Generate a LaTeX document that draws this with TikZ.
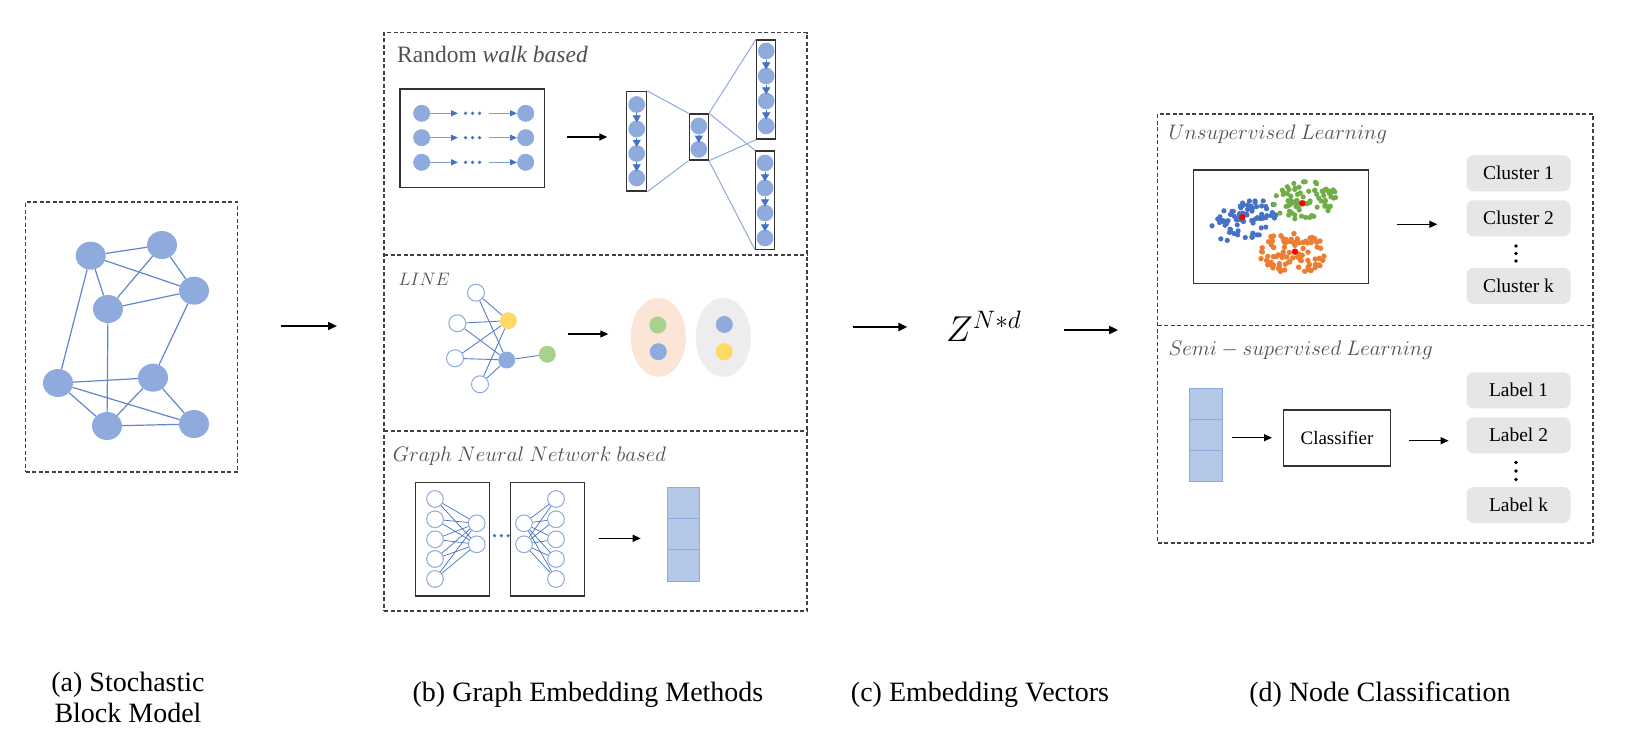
\RequirePackage{fix-cm}
\documentclass[tikz,border=0pt]{standalone}
\usepackage{fontspec}
\setmainfont{Liberation Serif}
\usetikzlibrary{shapes.geometric,arrows.meta,calc}
\definecolor{nblue}{HTML}{8FAADC}
\definecolor{dblue}{HTML}{4472C4}
\definecolor{vecfill}{HTML}{B4C7E7}
\definecolor{peach}{HTML}{FBE5D6}
\definecolor{lgray}{HTML}{EDEDED}
\definecolor{yel}{HTML}{FFD966}
\definecolor{grn}{HTML}{A9D18E}
\definecolor{boxgray}{HTML}{E6E6E6}
\definecolor{sblue}{HTML}{4472C4}
\definecolor{sgreen}{HTML}{70AD47}
\definecolor{sorange}{HTML}{ED7D31}
\definecolor{labgray}{HTML}{505050}
\begin{document}
\begin{tikzpicture}[x=1pt,y=-1pt,
  dbox/.style={draw=black!75, line width=1.1pt, dash pattern=on 4pt off 2.5pt},
  sbm/.style={ellipse, fill=nblue, inner sep=0pt, minimum width=30pt, minimum height=28pt},
  sbmedge/.style={draw=dblue!85, line width=1.2pt},
  fnode/.style={circle, fill=nblue, inner sep=0pt, minimum size=17pt},
  hnode/.style={circle, draw=nblue, fill=white, line width=1pt, inner sep=0pt, minimum size=17pt},
  blkbox/.style={draw=black!80, line width=1.4pt, inner sep=0pt},
  arr/.style={draw=black, line width=1.3pt, -{Triangle[length=8pt,width=7pt]}},
  bigarr/.style={draw=black, line width=2.4pt, -{Triangle[length=9pt,width=8pt]}},
  barr/.style={draw=nblue!80!dblue, line width=1.2pt, -{Triangle[length=7pt,width=6pt,color=dblue]}},
  tri/.style={draw=dblue, line width=0.6pt, shorten >=-2pt, -{Triangle[length=7pt,width=8pt]}},
  fan/.style={draw=nblue, line width=1pt},
  ledge/.style={draw=dblue!90, line width=0.9pt},
  gedge/.style={draw=dblue, line width=0.7pt},
  glabel/.style={text=labgray, font=\fontsize{21}{25}\selectfont, inner sep=0pt, anchor=base west},
  gbox/.style={rounded corners=7pt, fill=boxgray, minimum width=104pt, minimum height=36pt, font=\fontsize{19.5}{23}\selectfont, inner sep=0pt},
  vcell/.style={draw=nblue, fill=vecfill, line width=1pt, minimum width=32pt, minimum height=31pt, inner sep=0pt},
  captxt/.style={font=\fontsize{28}{31}\selectfont, align=center, inner sep=0pt},
  bdot/.style={circle, fill=dblue, inner sep=0pt, minimum size=3.6pt},
  kdot/.style={circle, fill=black, inner sep=0pt, minimum size=3.6pt}
]
\useasboundingbox[fill=white] (0,0) rectangle (1628,738);

% ---------------- panel (a)
\node[dbox, minimum width=212pt, minimum height=270pt] (pa) at (131.7,337) {};
\node[sbm] (n1) at (90.7,255.7) {};
\node[sbm] (n2) at (162,245) {};
\node[sbm] (n3) at (194,290.7) {};
\node[sbm] (n4) at (108,309) {};
\node[sbm] (n5) at (58,383) {};
\node[sbm] (n6) at (153,377.7) {};
\node[sbm] (n7) at (107,426) {};
\node[sbm] (n8) at (194,424) {};
\foreach \a/\b in {n1/n2,n1/n3,n1/n4,n1/n5,n2/n4,n2/n3,n4/n3,n4/n7,n3/n6,n5/n6,n5/n7,n5/n8,n6/n7,n6/n8,n7/n8}
  \draw[sbmedge] (\a) -- (\b);

\coordinate (ab1) at (281,326);
\coordinate (ab2) at (337,326);
\draw[bigarr] (ab1) -- (ab2);

% ---------------- panel (b)
\node[dbox, minimum width=423pt, minimum height=578.3pt] (pb) at (595.5,321.85) {};
\draw[dbox] (384,255) -- (807,255);
\draw[dbox] (384,431) -- (807,431);

% random walk
\node[glabel, font=\fontsize{23.5}{27}\selectfont] (rwt) at (397,62.3) {Random \textit{walk based}};
\node[blkbox, minimum width=144.3pt, minimum height=98.7pt] (rwbox) at (472.2,138.4) {};
\foreach \r/\y in {1/113.3,2/137.7,3/162.3}{
  \node[fnode] (rl\r) at (421.7,\y) {};
  \node[fnode] (rr\r) at (525.7,\y) {};
  \coordinate (ra\r) at (458,\y);
  \coordinate (rb\r) at (488.5,\y);
  \draw[barr] (rl\r) -- (ra\r);
  \draw[barr] (rb\r) -- (rr\r);
  \node[bdot] at (465.5,\y) {};
  \node[bdot] at (472.5,\y) {};
  \node[bdot] at (479.5,\y) {};
}
% columns
\node[blkbox, minimum width=20pt, minimum height=99.3pt] (c1) at (636.7,141.3) {};
\node[blkbox, minimum width=19pt, minimum height=46pt] (c2) at (698.8,137) {};
\node[blkbox, minimum width=19pt, minimum height=99pt] (c3) at (766.2,89.5) {};
\node[blkbox, minimum width=18.6pt, minimum height=98.3pt] (c4) at (765,200.2) {};
\foreach \i/\y in {1/104.5,2/129,3/153.5,4/178} \node[fnode, minimum size=16.7pt] (c1n\i) at (636.7,\y) {};
\foreach \i/\y in {1/126,2/149.3} \node[fnode, minimum size=16.7pt] (c2n\i) at (698.8,\y) {};
\foreach \i/\y in {1/51,2/76,3/101,4/126} \node[fnode, minimum size=16.7pt] (c3n\i) at (766.2,\y) {};
\foreach \i/\y in {1/163,2/188,3/213,4/238} \node[fnode, minimum size=16.7pt] (c4n\i) at (765,\y) {};
\foreach \c in {c1,c3,c4}{
  \draw[tri] (\c n1) -- (\c n2);
  \draw[tri] (\c n2) -- (\c n3);
  \draw[tri] (\c n3) -- (\c n4);
}
\draw[tri] (c2n1) -- (c2n2);
\draw[fan] (c1.north east) -- (c2.north west);
\draw[fan] (c1.south east) -- (c2.south west);
\draw[fan] (c2.north east) -- (c3.north west);
\draw[fan] (c2.north east) -- (c4.north west);
\draw[fan] (c2.south east) -- (c3.south west);
\draw[fan] (c2.south east) -- (c4.south west);
\coordinate (rwa1) at (566.7,137);
\coordinate (rwa2) at (607.3,137);
\draw[arr] (rwa1) -- (rwa2);

% LINE
\node[glabel, font=\fontsize{18}{22}\selectfont] (linet) at (398.3,285) {$LINE$};
\node[hnode] (h1) at (476,292.7) {};
\node[hnode] (h2) at (457.3,323.3) {};
\node[hnode] (h3) at (455,358.3) {};
\node[hnode] (h4) at (480,384.3) {};
\node[fnode, fill=yel] (ly) at (508.3,320.7) {};
\node[fnode] (lb) at (506.7,360) {};
\node[fnode, fill=grn] (lg) at (547.3,354.3) {};
\foreach \h in {h1,h2,h3,h4}{
  \draw[ledge] (\h) -- (ly);
  \draw[ledge] (\h) -- (lb);
}
\draw[ledge] (lb) -- (lg);
\coordinate (la1) at (567.7,334);
\coordinate (la2) at (608.3,334);
\draw[arr] (la1) -- (la2);
\node[ellipse, fill=peach, minimum width=55pt, minimum height=79pt, inner sep=0pt] (e1) at (658.3,337.3) {};
\node[ellipse, fill=lgray, minimum width=55pt, minimum height=79pt, inner sep=0pt] (e2) at (723.3,337.3) {};
\node[fnode, fill=grn] (e1a) at (657.8,325) {};
\node[fnode] (e1b) at (658.3,351.7) {};
\node[fnode] (e2a) at (724.3,324.5) {};
\node[fnode, fill=yel] (e2b) at (724.3,351.7) {};

% GNN
\node[glabel] (gnnt) at (392.7,461) {$Graph\ Neural\ Network\ based$};
\node[blkbox, minimum width=73.6pt, minimum height=113.3pt] (g1) at (452.5,539.3) {};
\node[blkbox, minimum width=73.6pt, minimum height=113.3pt] (g2) at (547.5,539.3) {};
\foreach \i/\y in {1/499,2/519.3,3/539.3,4/559,5/579}{
  \node[hnode, minimum size=16.7pt] (gl\i) at (435,\y) {};
  \node[hnode, minimum size=16.7pt] (gr\i) at (556,\y) {};
}
\foreach \j/\y in {1/523.3,2/544.3}{
  \node[hnode, minimum size=16.7pt] (gm\j) at (476.7,\y) {};
  \node[hnode, minimum size=16.7pt] (gn\j) at (524,\y) {};
}
\foreach \i in {1,...,5}{
  \foreach \j in {1,2}{
    \draw[gedge] (gl\i) -- (gm\j);
    \draw[gedge] (gn\j) -- (gr\i);
  }
}
\node[bdot] at (494.5,535.7) {};
\node[bdot] at (501.3,535.7) {};
\node[bdot] at (508.1,535.7) {};
\coordinate (ga1) at (599.3,538.3);
\coordinate (ga2) at (640.7,538.3);
\draw[arr] (ga1) -- (ga2);
\node[vcell, minimum width=31.7pt, minimum height=31.1pt] (gv1) at (683.2,503.25) {};
\node[vcell, minimum width=31.7pt, minimum height=31.1pt] (gv2) at (683.2,534.35) {};
\node[vcell, minimum width=31.7pt, minimum height=31.1pt] (gv3) at (683.2,565.45) {};

% ---------------- (c)
\coordinate (bc1) at (852.7,327);
\coordinate (bc2) at (907.3,327);
\draw[bigarr] (bc1) -- (bc2);
\node[inner sep=0pt, anchor=base west, font=\fontsize{36}{40}\selectfont] (zvec) at (946,341.7) {$Z^{N*d}$};
\coordinate (cd1) at (1064,330);
\coordinate (cd2) at (1118,330);
\draw[bigarr] (cd1) -- (cd2);

% ---------------- panel (d)
\node[dbox, minimum width=435.3pt, minimum height=429pt] (pd) at (1375.35,328.5) {};
\draw[dbox] (1157.7,325.5) -- (1593,325.5);
\node[glabel] (unt) at (1168.3,139.3) {$Unsupervised\ Learning$};
\node[blkbox, minimum width=175pt, minimum height=113.7pt] (sc) at (1280.8,226.85) {};
\begin{scope}
\clip (1194,171) rectangle (1367.5,283);
\pgfmathsetseed{4242}
\foreach \i in {1,...,80}{
  \pgfmathsetmacro\rr{sqrt(rnd)}
  \pgfmathsetmacro\aa{360*rnd}
  \fill[sblue] ({1244+33*\rr*cos(\aa)},{221+20*\rr*sin(\aa)-0.25*33*\rr*cos(\aa)}) circle (2.6);
}
\foreach \i in {1,...,80}{
  \pgfmathsetmacro\rr{sqrt(rnd)}
  \pgfmathsetmacro\aa{360*rnd}
  \fill[sgreen] ({1305+32*\rr*cos(\aa)},{200+19*\rr*sin(\aa)-0.1*32*\rr*cos(\aa)}) circle (2.6);
}
\foreach \i in {1,...,85}{
  \pgfmathsetmacro\rr{sqrt(rnd)}
  \pgfmathsetmacro\aa{360*rnd}
  \fill[sorange] ({1292+35*\rr*cos(\aa)},{253+21*\rr*sin(\aa)}) circle (2.7);
}
\fill[red] (1242.3,217.3) circle (3.2);
\fill[red] (1302.3,203.3) circle (3.2);
\fill[red] (1295,251.7) circle (3.2);
\end{scope}
\node[gbox] (cl1) at (1518.5,173.3) {Cluster 1};
\node[gbox] (cl2) at (1518.5,218.3) {Cluster 2};
\node[gbox] (clk) at (1518.5,285.8) {Cluster k};
\node[kdot] at (1516,246) {};
\node[kdot] at (1516,253.5) {};
\node[kdot] at (1516,261) {};
\coordinate (sa1) at (1396.7,224.3);
\coordinate (sa2) at (1437.3,224.3);
\draw[arr] (sa1) -- (sa2);

\node[glabel] (sst) at (1168.3,355) {$Semi-supervised\ Learning$};
\node[vcell, minimum width=32.7pt, minimum height=30.7pt] (sv1) at (1206.3,404.3) {};
\node[vcell, minimum width=32.7pt, minimum height=30.7pt] (sv2) at (1206.3,435) {};
\node[vcell, minimum width=32.7pt, minimum height=30.7pt] (sv3) at (1206.3,465.7) {};
\node[blkbox, minimum width=107.4pt, minimum height=56pt, font=\fontsize{19}{23}\selectfont] (clf) at (1337,438) {Classifier};
\draw[arr, shorten <=9pt, shorten >=10.6pt] (sv2.east |- 0,437.7) -- (clf.west |- 0,437.7);
\node[gbox] (lb1) at (1518.5,390.3) {Label 1};
\node[gbox] (lb2) at (1518.5,435.3) {Label 2};
\node[gbox] (lbk) at (1518.5,505) {Label k};
\node[kdot] at (1516,462.5) {};
\node[kdot] at (1516,471) {};
\node[kdot] at (1516,479.5) {};
\draw[arr, shorten <=17.6pt, shorten >=17.7pt] (clf.east |- 0,440.7) -- (lb2.west |- 0,440.7);

% ---------------- captions
\node[captxt] (capa) at (128,697.5) {(a) Stochastic\\Block Model};
\node[captxt] (capb) at (588,695) {(b) Graph Embedding Methods};
\node[captxt] (capc) at (980,695) {(c) Embedding Vectors};
\node[captxt] (capd) at (1380,695) {(d) Node Classification};
\end{tikzpicture}
\end{document}
